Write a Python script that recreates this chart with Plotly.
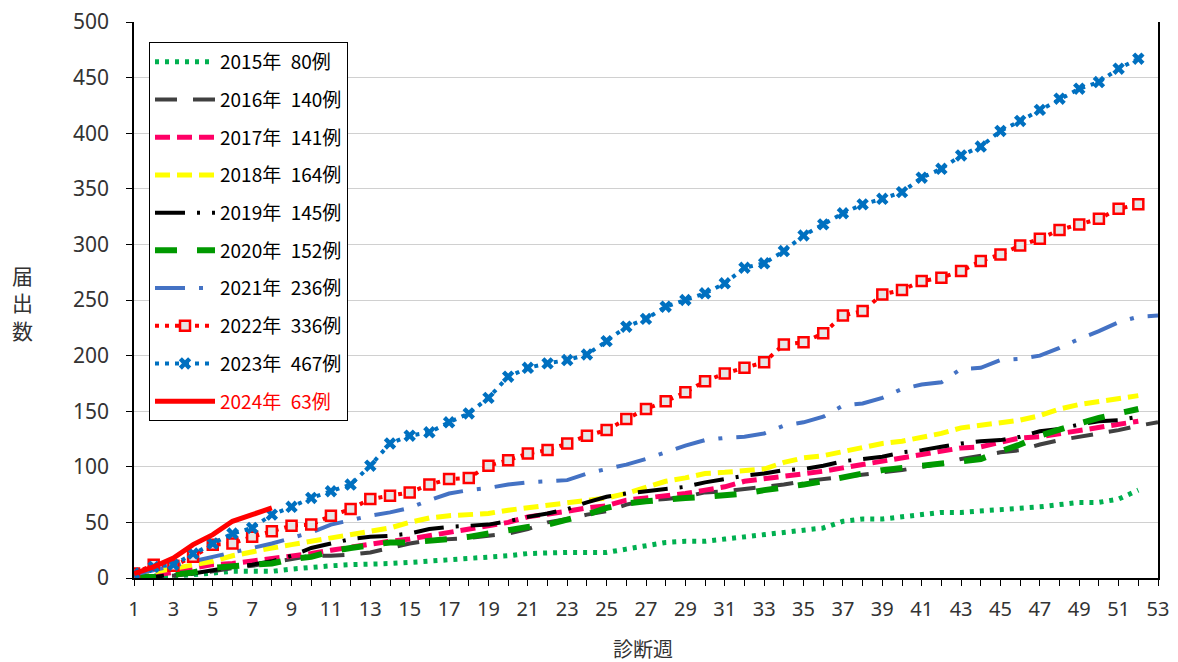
import plotly.graph_objects as go

weeks52 = list(range(1, 53))
weeks53 = list(range(1, 54))

y2015 = [1, 1, 2, 3, 5, 6, 6, 6, 8, 10, 11, 12, 12, 13, 14, 15, 16, 18, 19, 20,
         22, 23, 23, 23, 23, 26, 29, 32, 33, 33, 35, 37, 39, 41, 42, 45, 51, 53, 53, 55,
         58, 59, 59, 60, 61, 62, 64, 66, 68, 68, 71, 79]
y2016 = [0, 1, 2, 4, 6, 9, 11, 14, 17, 20, 20, 21, 23, 27, 31, 34, 35, 36, 38, 40,
         44, 50, 53, 57, 60, 66, 70, 71, 73, 77, 78, 80, 82, 84, 87, 89, 91, 93, 95, 97,
         100, 103, 107, 110, 113, 115, 120, 124, 127, 130, 133, 137, 140]
y2017 = [1, 3, 5, 9, 12, 13, 15, 18, 20, 22, 25, 28, 30, 33, 35, 38, 41, 43, 47, 50,
         55, 57, 60, 63, 65, 70, 72, 73, 76, 79, 82, 87, 89, 91, 93, 96, 99, 102, 105, 107,
         110, 114, 117, 118, 122, 126, 127, 130, 132, 135, 138, 141]
y2018 = [2, 5, 8, 12, 15, 20, 24, 27, 30, 33, 36, 39, 42, 45, 50, 54, 56, 57, 58, 61,
         63, 65, 67, 70, 72, 76, 81, 87, 90, 94, 95, 96, 98, 104, 108, 110, 114, 118, 121, 123,
         126, 130, 135, 137, 139, 142, 146, 152, 156, 159, 162, 164]
y2019 = [0, 1, 3, 4, 7, 10, 12, 15, 20, 27, 31, 35, 37, 38, 40, 44, 46, 47, 48, 51,
         55, 58, 62, 68, 73, 76, 78, 80, 82, 86, 89, 92, 94, 97, 98, 101, 105, 107, 109, 113,
         115, 118, 121, 123, 124, 127, 132, 134, 138, 141, 142, 145]
y2020 = [1, 1, 3, 5, 9, 11, 12, 13, 17, 19, 24, 27, 30, 32, 32, 33, 35, 37, 40, 44,
         46, 48, 52, 57, 63, 67, 69, 71, 72, 73, 74, 76, 79, 81, 84, 87, 91, 94, 97, 99,
         101, 103, 104, 107, 114, 120, 128, 134, 139, 144, 148, 152]
y2021 = [3, 7, 11, 15, 19, 23, 27, 31, 36, 41, 48, 52, 56, 59, 63, 70, 76, 79, 81, 84,
         86, 87, 88, 94, 98, 102, 107, 113, 119, 124, 126, 127, 130, 137, 140, 145, 155, 157, 162, 170,
         174, 176, 188, 189, 196, 197, 200, 207, 215, 222, 230, 235, 236]
y2022 = [4, 12, 11, 19, 30, 31, 37, 42, 47, 48, 56, 62, 71, 74, 77, 84, 89, 90, 101, 106,
         112, 115, 121, 128, 133, 143, 152, 159, 167, 177, 184, 189, 194, 210, 212, 220, 236, 240, 255, 259,
         267, 270, 276, 285, 291, 299, 305, 313, 318, 323, 332, 336]
y2023 = [4, 10, 12, 22, 31, 40, 45, 57, 64, 72, 78, 84, 101, 121, 128, 131, 140, 148, 162, 181,
         189, 193, 196, 201, 213, 226, 233, 244, 250, 256, 265, 279, 283, 294, 308, 318, 328, 336, 341, 347,
         360, 368, 380, 388, 402, 411, 421, 431, 440, 446, 458, 467]
y2024 = [4, 10, 18, 30, 39, 51, 57, 63]

SP = "\u2002"
names = ["2015年" + SP + "80例", "2016年" + SP + "140例", "2017年" + SP + "141例",
         "2018年" + SP + "164例", "2019年" + SP + "145例", "2020年" + SP + "152例",
         "2021年" + SP + "236例", "2022年" + SP + "336例", "2023年" + SP + "467例",
         "2024年" + SP + "63例"]

fig = go.Figure()

def add(x, y, name, color, width, dash, mode="lines", marker=None, group=None):
    fig.add_trace(go.Scatter(
        x=x, y=y, name=name, mode=mode, legendgroup=group or name,
        line=dict(color=color, width=width, dash=dash),
        marker=marker, hoverinfo="skip"))

add(weeks52, y2015, names[0], "#00b050", 5, "4px,6px")
add(weeks53, y2016, names[1], "#404040", 4, "22px,16px")
add(weeks52, y2017, names[2], "#ff0066", 5, "15px,7px")
add(weeks52, y2018, names[3], "#ffff00", 5, "15px,7px")
add(weeks52, y2019, names[4], "#000000", 4, "30px,12px,3px,12px")
add(weeks52, y2020, names[5], "#009900", 6, "22px,20px")
add(weeks53, y2021, names[6], "#4472c4", 4, "30px,14px,4px,14px")
add(weeks52, y2022, names[7], "#ff0000", 4, "4px,6px", mode="lines+markers",
    marker=dict(symbol="square", size=10, color="#e6e6e6",
                line=dict(color="#ff0000", width=2.5)))
add(weeks52, y2023, names[8], "#0070c0", 4, "4px,6px", mode="lines+markers",
    marker=dict(symbol="x", size=11, color="#0070c0", line=dict(width=0)))
add(list(range(1, len(y2024) + 1)), y2024,
    '<span style="color:#ff0000">' + names[9] + '</span>', "#ff0000", 5, "solid", group="g2024")

font_family = "Noto Sans CJK JP"
num_family = "Noto Sans, Noto Sans CJK JP"

# page has an 8px body margin: figure coords = page coords - 8
W, H = 1170, 654
L, R, T, B = 126, 20, 14, 84
pw = W - L - R
ph = H - T - B

fig.update_layout(
    width=W, height=H, autosize=False,
    margin=dict(l=L, r=R, t=T, b=B, autoexpand=False),
    paper_bgcolor="white", plot_bgcolor="white",
    font=dict(family=font_family, color="#333333"),
    showlegend=True,
    legend=dict(
        x=(149 - 8 - L) / pw, y=(H - B - (42 - 8)) / ph, xanchor="left", yanchor="top",
        bgcolor="white", bordercolor="#000000", borderwidth=1,
        font=dict(family=font_family, size=19, color="#000000"),
        tracegroupgap=10, itemwidth=60, traceorder="grouped",
    ),
    xaxis=dict(
        range=[1, 53], tick0=1, dtick=2,
        ticks="outside", ticklen=6, tickcolor="#000000",
        showline=True, linecolor="#000000", linewidth=1.5,
        showgrid=False, zeroline=False, automargin=False,
        tickfont=dict(family=num_family, size=20, color="#333333"),
        ticklabelstandoff=6, ticklabeloverflow="allow",
        minor=dict(dtick=1, tick0=1, ticks="outside", ticklen=6, tickcolor="#000000", showgrid=False),
    ),
    yaxis=dict(
        range=[0, 500], dtick=50,
        ticks="outside", ticklen=6, tickcolor="#000000",
        showline=True, linecolor="#000000", linewidth=1.5, mirror=True,
        showgrid=True, gridcolor="#d0d0d0", gridwidth=1,
        zeroline=False, automargin=False,
        tickfont=dict(family=num_family, size=21, color="#333333"),
        ticklabelstandoff=13, ticklabeloverflow="allow",
    ),
    annotations=[
        dict(text="届<br>出<br>数", x=(22 - 8 - L) / pw, y=(H - B - (302 - 8)) / ph,
             xref="paper", yref="paper", xanchor="center", yanchor="middle",
             showarrow=False, font=dict(size=21, color="#333333")),
        dict(text="診断週", x=(643 - 8 - L) / pw, y=(H - B - (648 - 8)) / ph,
             xref="paper", yref="paper", xanchor="center", yanchor="middle",
             showarrow=False, font=dict(size=20, color="#333333")),
    ],
)

fig.write_html("out.html")
